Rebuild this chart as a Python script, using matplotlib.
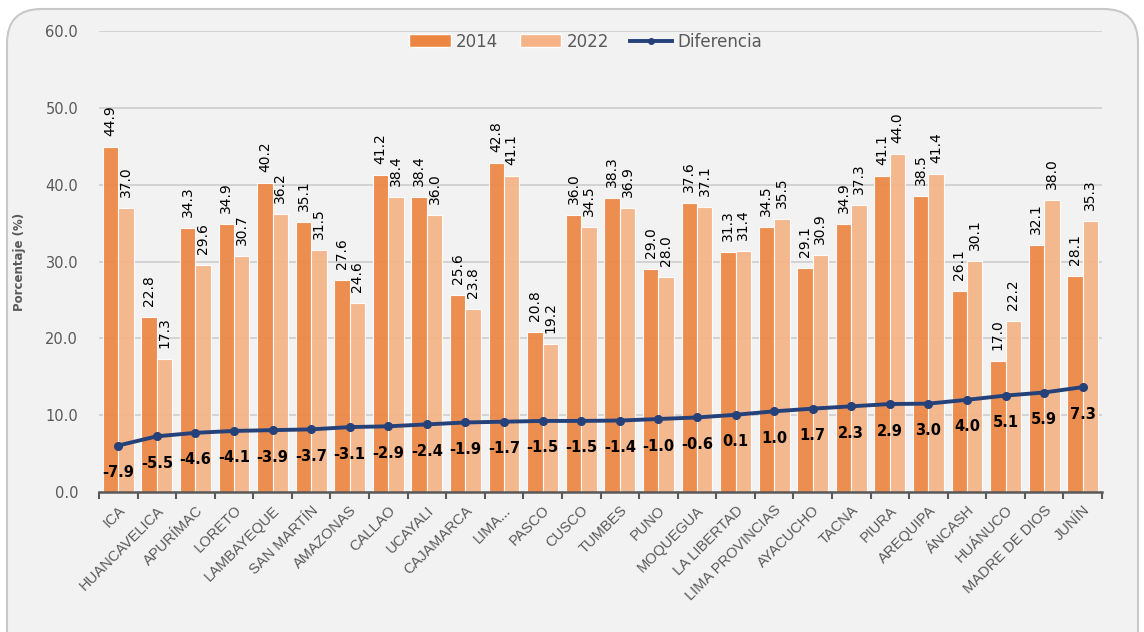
import matplotlib
matplotlib.use("Agg")
import matplotlib.pyplot as plt
import numpy as np
from matplotlib.patches import FancyBboxPatch, Patch
from matplotlib.lines import Line2D
from matplotlib.transforms import offset_copy

categories = ["ICA", "HUANCAVELICA", "APURÍMAC", "LORETO", "LAMBAYEQUE", "SAN MARTÍN",
              "AMAZONAS", "CALLAO", "UCAYALI", "CAJAMARCA", "LIMA...", "PASCO", "CUSCO",
              "TUMBES", "PUNO", "MOQUEGUA", "LA LIBERTAD", "LIMA PROVINCIAS", "AYACUCHO",
              "TACNA", "PIURA", "AREQUIPA", "ÁNCASH", "HUÁNUCO", "MADRE DE DIOS", "JUNÍN"]
v2014 = [44.9, 22.8, 34.3, 34.9, 40.2, 35.1, 27.6, 41.2, 38.4, 25.6, 42.8, 20.8, 36.0,
         38.3, 29.0, 37.6, 31.3, 34.5, 29.1, 34.9, 41.1, 38.5, 26.1, 17.0, 32.1, 28.1]
v2022 = [37.0, 17.3, 29.6, 30.7, 36.2, 31.5, 24.6, 38.4, 36.0, 23.8, 41.1, 19.2, 34.5,
         36.9, 28.0, 37.1, 31.4, 35.5, 30.9, 37.3, 44.0, 41.4, 30.1, 22.2, 38.0, 35.3]
diferencia = [-7.9, -5.5, -4.6, -4.1, -3.9, -3.7, -3.1, -2.9, -2.4, -1.9, -1.7, -1.5, -1.5,
              -1.4, -1.0, -0.6, 0.1, 1.0, 1.7, 2.3, 2.9, 3.0, 4.0, 5.1, 5.9, 7.3]
yticks = [0, 10, 20, 30, 40, 50, 60]

c2014 = "#ED8643"
c2022 = "#F5B387"
cline = "#24417A"
bg = "#F2F2F2"
txtgray = "#595959"

fig = plt.figure(figsize=(11.44, 6.32), dpi=100, facecolor="white")
border = FancyBboxPatch((7 / 1144, -0.2), (1138 - 7) / 1144, 1.2 - 9 / 632,
                        boxstyle="round,pad=0,rounding_size=0.03",
                        transform=fig.transFigure, facecolor=bg, edgecolor="#C8C8C8",
                        linewidth=1.5, zorder=-10, mutation_aspect=1144 / 632)
fig.patches.append(border)

ax = fig.add_axes([99 / 1144, 1 - 492 / 632, (1102 - 99) / 1144, (492 - 31) / 632])
ax.patch.set_alpha(0)

x = np.arange(len(categories))
w = 0.4
ax.bar(x - w / 2, v2014, w, color=c2014, edgecolor="white", linewidth=0.8,
       alpha=0.92, zorder=2)
ax.bar(x + w / 2, v2022, w, color=c2022, edgecolor="white", linewidth=0.8,
       alpha=0.92, zorder=2)

up = offset_copy(ax.transData, fig=fig, x=0, y=11, units="dots")
for xi, v in zip(x, v2014):
    ax.text(xi - w / 2, v, f"{v:.1f}", transform=up, rotation=90,
            ha="center", va="bottom", fontsize=10, color="black", zorder=5)
for xi, v in zip(x, v2022):
    ax.text(xi + w / 2, v, f"{v:.1f}", transform=up, rotation=90,
            ha="center", va="bottom", fontsize=10, color="black", zorder=5)

ax.set_ylim(0, 60)
ax.set_xlim(-0.5, len(categories) - 0.5)
ax.set_yticks(yticks)
ax.set_yticklabels([f"{t:.1f}" for t in yticks], color=txtgray, fontsize=10.5)
ax.yaxis.grid(True, color="#D0D0D0", linewidth=1.3, zorder=0)
ax.set_axisbelow(True)
ax.tick_params(axis="y", length=0, pad=15)

ax.set_xticks(x)
ax.set_xticklabels(categories, rotation=45, ha="right", rotation_mode="anchor",
                   color=txtgray, fontsize=10.5,
                   family=["Liberation Sans Narrow", "Liberation Sans", "DejaVu Sans"])
ax.tick_params(axis="x", which="major", length=0, pad=8)
ax.set_xticks(np.arange(-0.5, len(categories)), minor=True)
ax.tick_params(axis="x", which="minor", length=5, width=1.5, color=txtgray, direction="out")

for s in ["top", "right", "left"]:
    ax.spines[s].set_visible(False)
ax.spines["bottom"].set_color(txtgray)
ax.spines["bottom"].set_linewidth(1.8)

ax.set_ylabel("Porcentaje (%)", fontsize=8.5, fontweight="bold", color=txtgray, labelpad=14)

ax2 = ax.twinx()
ax2.set_ylim(-20, 100)
ax2.plot(x, diferencia, color=cline, linewidth=2.8, marker="o", markersize=5.5, zorder=6)
down = offset_copy(ax2.transData, fig=fig, x=0, y=-27, units="dots")
for xi, d in zip(x, diferencia):
    ax2.text(xi, d, f"{d:.1f}", transform=down, ha="center", va="center",
             fontsize=10.5, fontweight="bold", color="black")
ax2.set_yticks([])
for s in ax2.spines.values():
    s.set_visible(False)

handles = [Patch(facecolor=c2014, edgecolor="white"),
           Patch(facecolor=c2022, edgecolor="white"),
           Line2D([0], [0], color=cline, linewidth=2.8, marker="o", markersize=4)]
leg = ax.legend(handles, ["2014", "2022", "Diferencia"], loc="center",
                bbox_to_anchor=(0.485, 0.977), ncol=3, frameon=False, fontsize=12,
                handlelength=2.5, handleheight=0.8, columnspacing=1.3, handletextpad=0.3)
for t in leg.get_texts():
    t.set_color(txtgray)

fig.savefig("out.png", dpi=100, facecolor="white")
